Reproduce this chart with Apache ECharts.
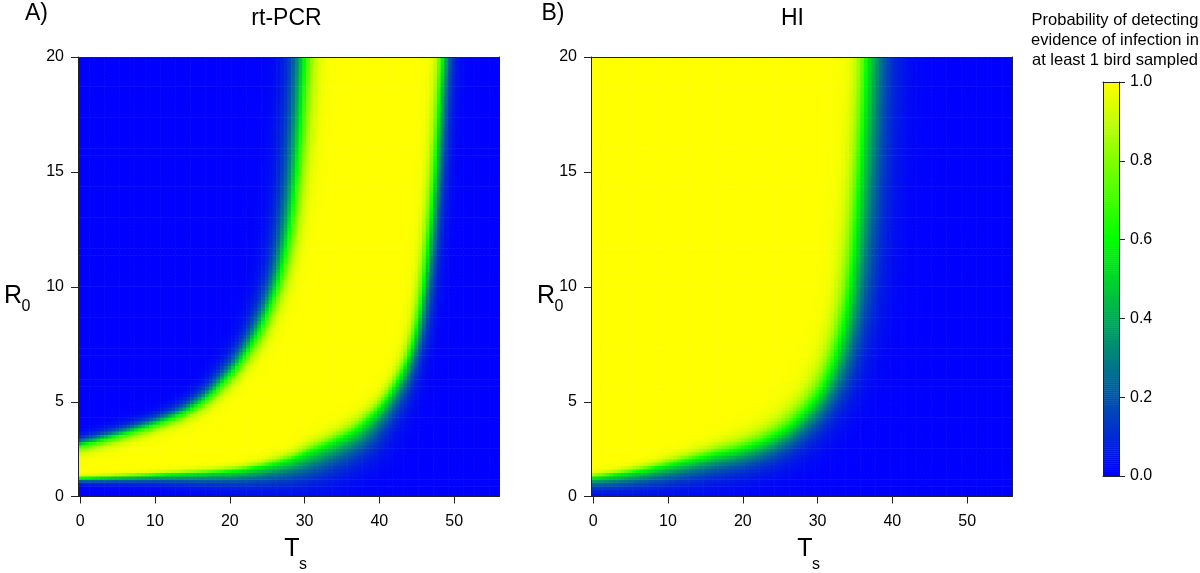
<!DOCTYPE html>
<html>
<head>
<meta charset="utf-8">
<script src="https://cdn.jsdelivr.net/npm/echarts@6/dist/echarts.min.js"></script>
<style>
html,body{margin:0;padding:0;background:#ffffff;}
#chart{width:1200px;height:573px;}
</style>
</head>
<body>
<div id="chart"></div>
<script>
// ---------------- data ----------------
// axis ranges and tick labels
const tsRange = [-0.3, 56];
const r0Range = [0.88, 20];
const tsTicks = [0, 10, 20, 30, 40, 50];
const r0Ticks = [0.88, 5, 10, 15, 20];
const r0TickLabels = ['0', '5', '10', '15', '20'];
const colorbarTicks = [0, 0.2, 0.4, 0.6, 0.8, 1.0];

// Panel A (rt-PCR): upper-left edge of the detection band (green contour)
const pcrUpperTs = [-5, 0, 4, 8, 11.6, 14.5, 17, 19.2, 21.5, 23.6, 25.4, 26.8, 27.9, 28.8, 29.4, 29.75, 30, 30.2];
const pcrUpperR0 = [2.8, 3.13, 3.45, 3.83, 4.22, 4.65, 5.2, 5.9, 6.8, 7.9, 9.2, 10.6, 12.4, 14.6, 16.8, 18.5, 20, 23];
const pcrUpperSoftYellow = [10, 10, 10, 10, 10, 11, 11, 12, 12, 13, 13, 13, 14, 14, 15, 15, 15, 15];
const pcrUpperSoftBlue = [10, 10, 11, 11, 12, 13, 14, 15, 16, 17, 18, 19, 20, 21, 22, 22, 22, 22];

// Panel A (rt-PCR): lower / right edge of the detection band (green contour)
const pcrLowerTs = [-5, 0, 10, 20, 25, 28.5, 31.1, 34, 36.9, 39.2, 40.9, 42.5, 43.8, 44.8, 45.6, 46.3, 47.0, 47.6, 48.1, 48.4, 48.6];
const pcrLowerR0 = [1.66, 1.70, 1.83, 2.0, 2.25, 2.55, 2.9, 3.3, 3.8, 4.45, 5.1, 5.95, 6.9, 8.0, 9.4, 11.2, 13.5, 16, 18.5, 20, 23];
const pcrLowerSoftYellow = [3, 3, 4, 6, 8, 10, 12, 13, 14, 12, 11, 10, 10, 10, 10, 10, 10, 10, 10, 10, 10];
const pcrLowerSoftBlue = [6, 6, 10, 18, 24, 30, 34, 34, 32, 26, 22, 19, 16, 15, 14, 14, 14, 14, 14, 14, 14];

// Panel B (HI): edge between detected (yellow) and undetected (blue)
const hiEdgeTs = [-5, 0, 6, 11.6, 17, 20, 23, 25.5, 27.4, 29, 30.5, 31.8, 33, 34.1, 35, 35.7, 36.2, 36.6, 36.9];
const hiEdgeR0 = [1.66, 1.74, 2.0, 2.38, 2.78, 3.0, 3.35, 3.8, 4.3, 4.85, 5.55, 6.45, 7.7, 9.5, 12, 15, 17.5, 20, 23];
const hiEdgeSoftYellow = [5, 5, 7, 10, 14, 16, 18, 19, 20, 20, 20, 19, 18, 17, 17, 16, 16, 16, 16];
const hiEdgeSoftBlue = [15, 15, 20, 25, 28, 29, 30, 30, 30, 30, 30, 30, 30, 31, 31, 32, 32, 32, 32];

// colour scale of the probability
const probColors = ['#0000FF', '#0055AA', '#00AA55', '#00FF00', '#80FF00', '#FFFF00'];

// ---------------- building the cell table ----------------
const TS_STEP = 0.5, R0_STEP = 0.15;
const METRIC_TS = 7.5, METRIC_R0 = 23; // relative scale of the two axes for distances

// smooth (Catmull-Rom) path through the read contour points
function makeEdge(ts, r0, wy, wb, side) {
  const n = ts.length, X = [], Y = [], WY = [], WB = [];
  const P = i => { const k = Math.max(0, Math.min(n - 1, i)); return [ts[k] * METRIC_TS, r0[k] * METRIC_R0]; };
  const SUB = 8;
  for (let i = 0; i < n - 1; i++) {
    const p0 = P(i - 1), p1 = P(i), p2 = P(i + 1), p3 = P(i + 2);
    for (let k = 0; k < SUB; k++) {
      const t = k / SUB, t2 = t * t, t3 = t2 * t;
      const f = d => 0.5 * (2 * p1[d] + (-p0[d] + p2[d]) * t + (2 * p0[d] - 5 * p1[d] + 4 * p2[d] - p3[d]) * t2 + (-p0[d] + 3 * p1[d] - 3 * p2[d] + p3[d]) * t3);
      X.push(f(0)); Y.push(f(1));
      WY.push(wy[i] + t * (wy[i + 1] - wy[i]));
      WB.push(wb[i] + t * (wb[i + 1] - wb[i]));
    }
  }
  X.push(ts[n - 1] * METRIC_TS); Y.push(r0[n - 1] * METRIC_R0); WY.push(wy[n - 1]); WB.push(wb[n - 1]);
  return {X, Y, WY, WB, side};
}
const pcrUpper = makeEdge(pcrUpperTs, pcrUpperR0, pcrUpperSoftYellow, pcrUpperSoftBlue, -1);
const pcrLower = makeEdge(pcrLowerTs, pcrLowerR0, pcrLowerSoftYellow, pcrLowerSoftBlue, 1);
const hiEdge = makeEdge(hiEdgeTs, hiEdgeR0, hiEdgeSoftYellow, hiEdgeSoftBlue, 1);

function edgeFactor(c, ts, r0) {
  const qx = ts * METRIC_TS, qy = r0 * METRIC_R0;
  let best = Infinity, sgn = 1, wy = 1, wb = 1;
  for (let i = 0; i < c.X.length - 1; i++) {
    const ax = c.X[i], ay = c.Y[i], bx = c.X[i + 1], by = c.Y[i + 1];
    const dx = bx - ax, dy = by - ay;
    const L2 = dx * dx + dy * dy;
    if (L2 === 0) continue;
    let t = ((qx - ax) * dx + (qy - ay) * dy) / L2;
    t = Math.max(0, Math.min(1, t));
    const ex = qx - (ax + t * dx), ey = qy - (ay + t * dy);
    const d2 = ex * ex + ey * ey;
    if (d2 < best) {
      best = d2;
      sgn = (dx * (qy - ay) - dy * (qx - ax)) >= 0 ? 1 : -1;
      wy = c.WY[i] + t * (c.WY[i + 1] - c.WY[i]);
      wb = c.WB[i] + t * (c.WB[i + 1] - c.WB[i]);
    }
  }
  const d = Math.sqrt(best) * sgn * c.side;
  return d >= 0 ? 0.6 + 0.4 * Math.tanh(1.4 * d / wy) : 0.6 - 0.6 * Math.tanh(-1.4 * d / wb);
}

function buildField(edges) {
  const out = [];
  const nx = Math.ceil((tsRange[1] - tsRange[0]) / TS_STEP);
  const ny = Math.ceil((r0Range[1] - r0Range[0]) / R0_STEP);
  for (let i = 0; i < nx; i++) {
    const ts = tsRange[0] + (i + 0.5) * TS_STEP;
    for (let j = 0; j < ny; j++) {
      const r0 = r0Range[0] + (j + 0.5) * R0_STEP;
      let p = 1;
      edges.forEach(e => { p *= edgeFactor(e, ts, r0); });
      out.push([ts, r0, Math.max(0, Math.min(1, p))]);
    }
  }
  return out;
}

const pcrCells = buildField([pcrUpper, pcrLower]);
const hiCells = buildField([hiEdge]);
const colorbarLevels = [];
for (let k = 0; k <= 200; k++) colorbarLevels.push([0.5, k / 200, k / 200]);

// ---------------- chart ----------------
const FONT = '"Liberation Sans", Arial, Helvetica, sans-serif';
const LINE = '#222';

function renderCell(params, api) {
  const ts = api.value(0), r0 = api.value(1);
  const a = api.coord([ts - TS_STEP / 2, r0 + R0_STEP / 2]);
  const b = api.coord([ts + TS_STEP / 2, r0 - R0_STEP / 2]);
  return {
    type: 'rect', silent: true,
    shape: {x: a[0], y: a[1], width: b[0] - a[0] + 0.6, height: b[1] - a[1] + 0.6},
    style: {fill: api.visual('color')}
  };
}
function renderLevel(params, api) {
  const v = api.value(1);
  const a = api.coord([0, v + 0.0026]);
  const b = api.coord([1, v - 0.0026]);
  return {
    type: 'rect', silent: true,
    shape: {x: a[0], y: a[1], width: b[0] - a[0], height: b[1] - a[1] + 0.4},
    style: {fill: api.visual('color')}
  };
}

const labelStyle = {color: '#000', fontFamily: FONT, fontSize: 16};
function mainX(g) {
  return {type: 'value', gridIndex: g, min: tsRange[0], max: tsRange[1], position: 'bottom', z: 5,
    axisLine: {show: true, onZero: false, lineStyle: {color: LINE, width: 1}},
    axisTick: {show: true, length: 7, customValues: tsTicks, lineStyle: {color: LINE}},
    axisLabel: Object.assign({customValues: tsTicks, margin: 17}, labelStyle),
    splitLine: {show: false}};
}
function frameX(g, min, max) {
  return {type: 'value', gridIndex: g, min, max, position: 'top', z: 5,
    axisLine: {show: true, onZero: false, lineStyle: {color: LINE, width: 1}},
    axisTick: {show: false}, axisLabel: {show: false}, splitLine: {show: false}};
}
function mainY(g) {
  return {type: 'value', gridIndex: g, min: r0Range[0], max: r0Range[1], position: 'left', z: 5,
    axisLine: {show: true, onZero: false, lineStyle: {color: LINE, width: 1}},
    axisTick: {show: true, length: 7, customValues: r0Ticks, lineStyle: {color: LINE}},
    axisLabel: Object.assign({customValues: r0Ticks, margin: 14,
      formatter: v => { const k = r0Ticks.findIndex(t => Math.abs(t - v) < 1e-6); return k >= 0 ? r0TickLabels[k] : ''; }}, labelStyle),
    splitLine: {show: false}};
}
function frameY(g, min, max, pos) {
  return {type: 'value', gridIndex: g, min, max, position: pos, z: 5,
    axisLine: {show: true, onZero: false, lineStyle: {color: LINE, width: 1}},
    axisTick: {show: false}, axisLabel: {show: false}, splitLine: {show: false}};
}

function txt(text, x, y, size, align) {
  return {type: 'text', x, y, z: 10,
    style: {text, font: size + 'px ' + FONT, fill: '#000', align: align || 'center', verticalAlign: 'middle',
      textAlign: align || 'center', textVerticalAlign: 'middle'}};
}

const option = {
  animation: false,
  backgroundColor: '#ffffff',
  grid: [
    {left: 78, top: 57, width: 421, height: 439.5},
    {left: 591, top: 57, width: 421, height: 439.5},
    {left: 1103, top: 82, width: 16, height: 394}
  ],
  xAxis: [
    mainX(0), frameX(0, tsRange[0], tsRange[1]),
    mainX(1), frameX(1, tsRange[0], tsRange[1]),
    {type: 'value', gridIndex: 2, min: 0, max: 1, position: 'bottom', z: 5,
      axisLine: {show: true, onZero: false, lineStyle: {color: LINE}}, axisTick: {show: false},
      axisLabel: {show: false}, splitLine: {show: false}},
    frameX(2, 0, 1)
  ],
  yAxis: [
    mainY(0), frameY(0, r0Range[0], r0Range[1], 'right'),
    mainY(1), frameY(1, r0Range[0], r0Range[1], 'right'),
    {type: 'value', gridIndex: 2, min: 0, max: 1, interval: 0.2, position: 'right', z: 5,
      axisLine: {show: true, onZero: false, lineStyle: {color: LINE}},
      axisTick: {show: true, length: 6, lineStyle: {color: LINE}},
      axisLabel: Object.assign({margin: 11, formatter: v => v.toFixed(1)}, labelStyle),
      splitLine: {show: false}},
    frameY(2, 0, 1, 'left')
  ],
  visualMap: {
    type: 'continuous', show: false, min: 0, max: 1, dimension: 2,
    seriesIndex: [0, 1, 2], inRange: {color: probColors}
  },
  series: [
    {type: 'custom', name: 'rt-PCR', xAxisIndex: 0, yAxisIndex: 0, data: pcrCells,
      renderItem: renderCell, clip: true, progressive: 0, silent: true, z: 2},
    {type: 'custom', name: 'HI', xAxisIndex: 2, yAxisIndex: 2, data: hiCells,
      renderItem: renderCell, clip: true, progressive: 0, silent: true, z: 2},
    {type: 'custom', name: 'colorbar', xAxisIndex: 4, yAxisIndex: 4, data: colorbarLevels,
      renderItem: renderLevel, clip: true, progressive: 0, silent: true, z: 2}
  ],
  graphic: [
    txt('A)', 36.5, 14, 23),
    txt('rt-PCR', 286.5, 19, 23),
    txt('B)', 553, 14, 23),
    txt('HI', 792.5, 19, 23),
    txt('R', 13, 296, 25), txt('0', 26, 307, 16),
    txt('T', 292, 549, 25), txt('s', 303, 565, 16),
    txt('R', 546, 296, 25), txt('0', 559, 307, 16),
    txt('T', 805, 549, 25), txt('s', 816, 565, 16),
    txt('Probability of detecting', 1115, 20.5, 16.5),
    txt('evidence of infection in', 1115, 40.5, 16.5),
    txt('at least 1 bird sampled', 1115, 60.5, 16.5)
  ]
};

const chart = echarts.init(document.getElementById('chart'), null, {renderer: 'canvas'});
chart.setOption(option);
</script>
</body>
</html>
